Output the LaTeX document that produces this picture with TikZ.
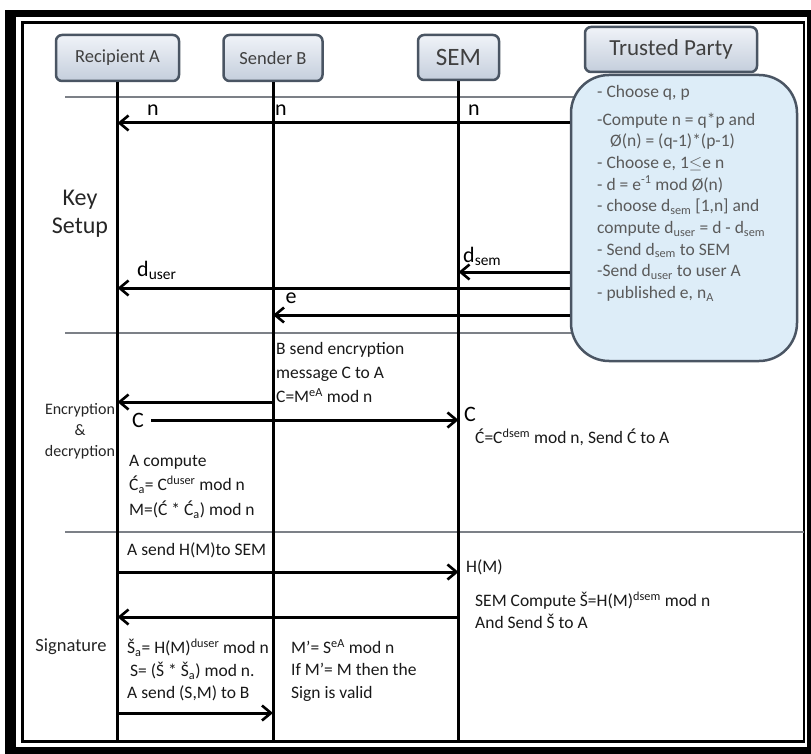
\documentclass[tikz,border=0pt]{standalone}
\usepackage{fontspec}
\setmainfont{Carlito}
\usepackage{tikz}
\usetikzlibrary{arrows.meta}
\usetikzlibrary{positioning}

\definecolor{boxline}{HTML}{4A5563}
\definecolor{boxtop}{HTML}{F0F3F8}
\definecolor{boxbot}{HTML}{C4CEDC}
\definecolor{tpfill}{HTML}{DDEDF8}
\definecolor{sepgray}{HTML}{7C8087}
\definecolor{tptext}{HTML}{5A5A5A}

\begin{document}
\begin{tikzpicture}[x=1pt, y=-1pt,
        actor/.style={rectangle, rounded corners=6pt, draw=boxline, line width=2.5pt, top color=boxtop, bottom color=boxbot, minimum height=46pt, text=black!75, font=\fontsize{18.5}{20}\selectfont},
        life/.style={line width=3pt, black},
        sep/.style={line width=2pt, sepgray},
        msg/.style={line width=3pt, -{Straight Barb[length=9pt, width=15pt, line width=2.6pt]}},
        lbl/.style={inner sep=0pt, text=black, font=\fontsize{22}{24}\selectfont},
        note/.style={inner sep=0pt, anchor=north west, align=left, text=black!90, font=\fontsize{17.5}{23}\selectfont}
      ]
        \useasboundingbox (0,0) rectangle (811,754);
        \fill[black] (5,10) rectangle (811,754);
        \fill[white] (16,17.5) rectangle (807,747);
        \draw[line width=2.5pt] (22.5,22.5) rectangle (804,741.5);

        \draw[sep] (65,97)  -- (590,97);
        \draw[sep] (65,333) -- (590,333);
        \draw[sep] (65,532) -- (804,532);

        \node[actor, minimum width=123pt]  (recA)  at (117.5,58)   {Recipient A};
        \node[actor, minimum width=99pt]   (sendB) at (273,58)     {Sender B};
        \node[actor, minimum width=81pt, minimum height=45pt, font=\fontsize{25}{27}\selectfont]   (sem)   at (458.5,57.5) {SEM};
        \node[actor, minimum width=172pt, minimum height=45pt, font=\fontsize{23}{25}\selectfont]  (trust) at (671,49.5)   {Trusted Party};

        \draw[life] (recA.south)  -- (recA.south |- 0,741);
        \draw[life] (sendB.south) -- (sendB.south |- 0,741);
        \draw[life] (sem.south)   -- (sem.south |- 0,741);

        \node[rectangle, rounded corners=38pt, draw=boxline, line width=2.5pt, fill=tpfill, minimum width=226pt, minimum height=286pt] (tp) at (684,218) {};
        \node[note, text=tptext, font=\fontsize{17.5}{21.7}\selectfont] (tpsteps) at (597,85) {- Choose q, p\\[6pt]
          -Compute n = q*p and\\
          \hspace*{13pt}Ø(n) = (q-1)*(p-1)\\
          - Choose e, 1$\leq$e n\\
          - d = e\textsuperscript{-1} mod Ø(n)\\
          - choose d\textsubscript{sem} [1,n] and\\
          compute d\textsubscript{user} = d - d\textsubscript{sem}\\
          - Send d\textsubscript{sem} to SEM\\
          -Send d\textsubscript{user} to user A\\
          - published e, n\textsubscript{A}};

        % key setup
        \node[font=\fontsize{24}{28}\selectfont, align=center, text=black!85] (keyset) at (80,214) {Key\\Setup};
        \draw[msg] (tp.west |- 0,123) -- (recA.south |- 0,123);
        \node[lbl] (nA) at (153,110) {n};
        \node[lbl] (nB) at (281,110) {n};
        \node[lbl] (nS) at (474,110) {n};
        \draw[msg] (tp.west |- 0,272) -- (sem.south |- 0,272);
        \node[lbl, anchor=west] (dsem) at (463,256) {d\textsubscript{sem}};
        \draw[msg] (tp.west |- 0,288) -- (recA.south |- 0,288);
        \node[lbl, anchor=west] (duser) at (137,270) {d\textsubscript{user}};
        \draw[msg] (tp.west |- 0,315) -- (sendB.south |- 0,315);
        \node[lbl] (eB) at (291,298) {e};

        % encryption
        \node[font=\fontsize{16}{21}\selectfont, align=center, text=black!85] (encdec) at (80,431) {Encryption\\\&\\decryption};
        \node[note, font=\fontsize{17.5}{24}\selectfont] (bsend) at (276,342) {B send encryption\\message C to A\\C=M\textsuperscript{eA} mod n};
        \draw[msg] (sendB.south |- 0,402) -- (recA.south |- 0,402);
        \node[lbl] (cA) at (138,420) {C};
        \draw[msg] (cA.east) ++(7,0) -- (sem.south |- 0,420);
        \node[lbl, anchor=west] (cS) at (464,414) {C};
        \node[note, anchor=west] (csem) at (475,437) {Ć=C\textsuperscript{dsem} mod n, Send Ć to A};
        \node[note, font=\fontsize{17.5}{24.5}\selectfont] (acomp) at (129,455) {A compute\\Ć\textsubscript{a}= C\textsuperscript{duser} mod n\\M=(Ć * Ć\textsubscript{a}) mod n};

        % signature
        \node[font=\fontsize{18.5}{20}\selectfont, text=black!85] (signat) at (71,647) {Signature};
        \node[note, anchor=west] (ahm) at (127,550) {A send H(M)to SEM};
        \draw[msg] (recA.south |- 0,572) -- (sem.south |- 0,572);
        \node[note, anchor=west] (hm) at (466,567) {H(M)};
        \node[note, font=\fontsize{17.5}{22}\selectfont] (semcomp) at (475,592) {SEM Compute Š=H(M)\textsuperscript{dsem} mod n\\And Send Š to A};
        \draw[msg] (sem.south |- 0,617) -- (recA.south |- 0,617);
        \node[note, font=\fontsize{17.5}{22.5}\selectfont] (sa) at (127,639) {Š\textsubscript{a}= H(M)\textsuperscript{duser} mod n\\\hspace*{3pt}S= (Š * Š\textsubscript{a}) mod n.\\A send (S,M) to B};
        \node[note, font=\fontsize{17.5}{22.5}\selectfont] (mcheck) at (291,639) {M’= S\textsuperscript{eA} mod n\\If M’= M then the\\Sign is valid};
        \draw[msg] (recA.south |- 0,713) -- (sendB.south |- 0,713);
      \end{tikzpicture}
\end{document}
